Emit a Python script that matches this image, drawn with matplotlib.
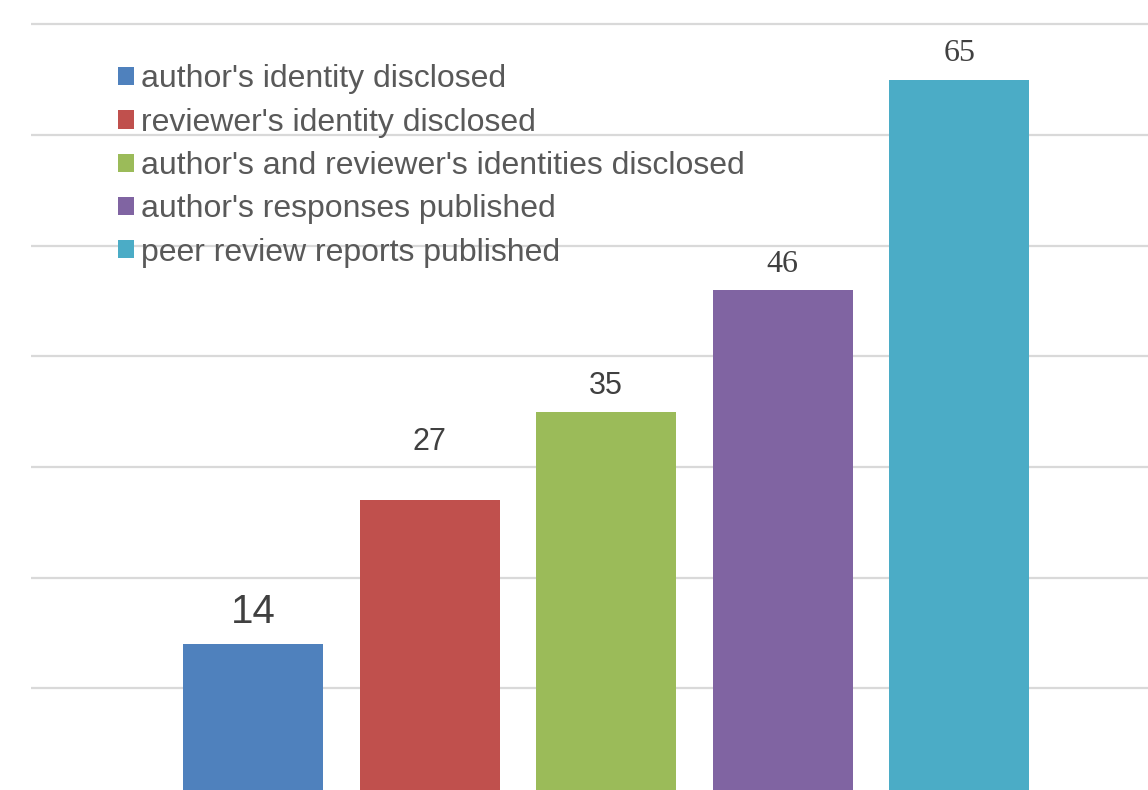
import matplotlib.pyplot as plt
from matplotlib.patches import Patch

categories = [
    "author's identity disclosed",
    "reviewer's identity disclosed",
    "author's and reviewer's identities disclosed",
    "author's responses published",
    "peer review reports published",
]
values = [14, 27, 35, 46, 65]
colors = ["#4f81bd", "#c0504d", "#9bbb59", "#8064a2", "#4bacc6"]

# label styles differ per bar in the original
label_fonts = ["Liberation Sans", "Liberation Sans", "Liberation Sans",
               "Liberation Serif", "Liberation Serif"]
label_sizes = [29, 22, 22, 23, 23]
label_offsets = [23, 42, 18.5, 18.5, 19]  # points above bar top

fig = plt.figure(figsize=(11.48, 7.90), dpi=100)
ax = fig.add_axes([31 / 1148, 0, 1 - 31 / 1148, 1])

x = list(range(len(values)))
bars = ax.bar(x, values, width=0.793, color=colors, zorder=2)

ax.set_xlim(-1.257, 5.068)
ax.set_ylim(0.8, 72.2)
ax.set_yticks([10, 20, 30, 40, 50, 60, 70])
ax.yaxis.grid(True, color="#d9d9d9", linewidth=1.6, zorder=0)
ax.tick_params(left=False, bottom=False, labelleft=False, labelbottom=False)
for s in ax.spines.values():
    s.set_visible(False)

for b, v, fam, sz, off in zip(bars, values, label_fonts, label_sizes, label_offsets):
    ax.annotate(str(v), (b.get_x() + b.get_width() / 2, v),
                xytext=(0, off), textcoords="offset points",
                ha="center", va="center", fontsize=sz,
                family=fam, color="#404040")

handles = [Patch(facecolor=c, edgecolor="none") for c in colors]
leg = ax.legend(handles, categories, loc="upper left",
                bbox_to_anchor=(118 / 1148, 1 - 64.5 / 790),
                bbox_transform=fig.transFigure,
                frameon=False,
                prop={"family": "Liberation Sans", "size": 23},
                handlelength=0.5, handleheight=0.5, handletextpad=0.22,
                labelspacing=0.415, borderaxespad=0, borderpad=0)
for t in leg.get_texts():
    t.set_color("#595959")

fig.savefig("out.png", dpi=100)
